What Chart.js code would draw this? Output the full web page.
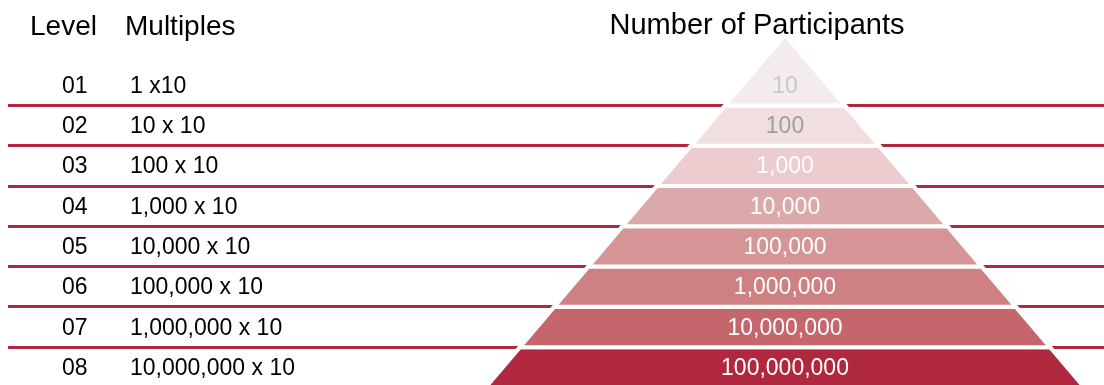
<!DOCTYPE html>
<html>
<head>
<meta charset="utf-8">
<script src="https://cdn.jsdelivr.net/npm/chart.js@4.4.0/dist/chart.umd.min.js"></script>
<style>
  html, body { margin: 0; padding: 0; background: #fff; }
  #wrap { width: 1104px; height: 385px; position: relative; }
</style>
</head>
<body>
<div id="wrap"><canvas id="pyramid"></canvas></div>
<script>
const levels = ['01', '02', '03', '04', '05', '06', '07', '08'];
const multiples = ['1 x10', '10 x 10', '100 x 10', '1,000 x 10', '10,000 x 10', '100,000 x 10', '1,000,000 x 10', '10,000,000 x 10'];
const participants = [10, 100, 1000, 10000, 100000, 1000000, 10000000, 100000000];

const fillColors = ['#f4ebec', '#f1dfe0', '#ecccce', '#dca9ab', '#d59597', '#ce8083', '#c5666d', '#af2840'];
const labelColors = ['#c8c8c8', '#9d9d9d', '#ffffff', '#ffffff', '#ffffff', '#ffffff', '#ffffff', '#ffffff'];
const lineColor = '#b0283f';
const FONT = "'Liberation Sans', Arial, sans-serif";

// pyramid geometry, in row units on the y axis
const APEX = -0.75;
const SLOPE = 34.2; // half width (px) per row unit below the tip

function trapezoid(i) {
    const top = i === 0 ? APEX : i;
    const bottom = i + 1;
    const wTop = (top - APEX) * SLOPE;
    const wBottom = (bottom - APEX) * SLOPE;
    return [
        { x: -wTop, y: top },
        { x: wTop, y: top },
        { x: wBottom, y: bottom },
        { x: -wBottom, y: bottom },
        { x: -wTop, y: top }
    ];
}

const textPlugin = {
    id: 'texts',
    afterDraw(chart) {
        const ctx = chart.ctx;
        const y = chart.scales.y;
        const x = chart.scales.x;
        ctx.save();
        ctx.fillStyle = '#000';
        ctx.textBaseline = 'alphabetic';

        ctx.font = '29px ' + FONT;
        ctx.textAlign = 'center';
        ctx.fillText('Number of Participants', 757, 34);

        ctx.font = '28px ' + FONT;
        ctx.textAlign = 'left';
        ctx.fillText('Level', 30, 35);
        ctx.fillText('Multiples', 125, 35);

        ctx.font = '23px ' + FONT;
        levels.forEach((lvl, i) => {
            const py = y.getPixelForValue(i + 0.5) + 7.5;
            ctx.fillStyle = '#000';
            ctx.textAlign = 'left';
            ctx.fillText(lvl, 62, py);
            ctx.fillText(multiples[i], 130, py);
            ctx.fillStyle = labelColors[i];
            ctx.textAlign = 'center';
            ctx.fillText(participants[i].toLocaleString('en-US'), x.getPixelForValue(0), py);
        });
        ctx.restore();
    }
};

new Chart(document.getElementById('pyramid'), {
    type: 'scatter',
    data: {
        datasets: participants.map((v, i) => ({
            label: levels[i],
            data: trapezoid(i),
            showLine: true,
            fill: 'shape',
            backgroundColor: fillColors[i],
            borderColor: '#ffffff',
            borderWidth: 4,
            pointRadius: 0,
            tension: 0
        }))
    },
    options: {
        responsive: true,
        maintainAspectRatio: false,
        animation: false,
        events: [],
        layout: { padding: { left: 8, top: 35, right: 0, bottom: 0 } },
        plugins: {
            legend: { display: false },
            tooltip: { enabled: false },
            title: { display: false }
        },
        scales: {
            x: {
                type: 'linear',
                display: false,
                min: -777,
                max: 319
            },
            y: {
                type: 'linear',
                reverse: true,
                min: APEX,
                max: 7.94,
                afterBuildTicks: axis => {
                    axis.ticks = levels.slice(1).map((_, i) => ({ value: i + 1 }));
                },
                grid: { color: lineColor, lineWidth: 3, drawTicks: false },
                border: { display: false },
                ticks: { display: false }
            }
        }
    },
    plugins: [textPlugin]
});
</script>
</body>
</html>
